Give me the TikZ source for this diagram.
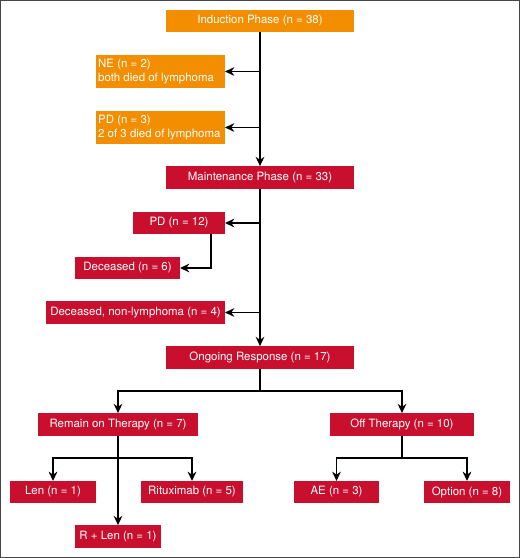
\documentclass[tikz,border=0pt]{standalone}
\usepackage{fontspec}
\setmainfont{TeX Gyre Heros}
\usepackage{tikz}
\usetikzlibrary{positioning, arrows.meta, calc}

\definecolor{phaseorange}{RGB}{242,142,0}
\definecolor{phasered}{RGB}{200,16,46}
\definecolor{framegray}{RGB}{70,70,70}

\tikzset{
  box/.style={fill=#1, text=white, inner sep=0pt, outer sep=0pt,
    font=\fontsize{8.6}{10.5}\selectfont},
  orangebox/.style={box=phaseorange},
  redbox/.style={box=phasered},
  notebox/.style={orangebox, minimum width=96.75pt, minimum height=24.75pt,
    inner xsep=1.6pt, text width=93.5pt, align=flush left},
  arr/.style={->, line width=1.2pt, black},
  link/.style={line width=1.2pt, black}
}

\begin{document}
\begin{tikzpicture}[x=0.75pt, y=-0.75pt, >={Stealth[length=7pt, width=6.5pt]}]
  \useasboundingbox (0,0) rectangle (520,558);
  \draw[framegray, line width=1.1pt] (0.7,0.7) rectangle (519.3,557.3);

  % --- Induction phase ---
  \node[orangebox, minimum width=141pt, minimum height=16.5pt] (induct) at (260,21) {Induction Phase (n = 38)};
  \node[notebox] (ne) at (160.5,71.5) {NE (n = 2)\\both died of lymphoma};
  \node[notebox] (pdind) at (160.5,127.5) {PD (n = 3)\\2 of 3 died of lymphoma};

  % --- Maintenance phase ---
  \node[redbox, minimum width=141pt, minimum height=17pt] (maint) at (260,177.5) {Maintenance Phase (n = 33)};
  \node[redbox, minimum width=69pt, minimum height=16.5pt] (pdmaint) at (179,223) {PD (n = 12)};
  \node[redbox, minimum width=78.75pt, minimum height=16.5pt] (dec) at (127.5,268) {Deceased (n = 6)};
  \node[redbox, minimum width=134.25pt, minimum height=17pt] (decnl) at (135.5,312.5) {Deceased, non-lymphoma (n = 4)};

  % --- Ongoing response ---
  \node[redbox, minimum width=141pt, minimum height=17pt] (ongo) at (260,357.5) {Ongoing Response (n = 17)};
  \node[redbox, minimum width=120pt, minimum height=17pt] (remain) at (118,424.5) {Remain on Therapy (n = 7)};
  \node[redbox, minimum width=108pt, minimum height=17pt] (off) at (402,424.5) {Off Therapy (n = 10)};
  \node[redbox, minimum width=64.5pt, minimum height=16.5pt] (len) at (53,492) {Len (n = 1)};
  \node[redbox, minimum width=76.5pt, minimum height=16.5pt] (ritux) at (192,492) {Rituximab (n = 5)};
  \node[redbox, minimum width=64.5pt, minimum height=17pt] (rlen) at (118,536.5) {R + Len (n = 1)};
  \node[redbox, minimum width=63.75pt, minimum height=16.5pt] (ae) at (336.5,492) {AE (n = 3)};
  \node[redbox, minimum width=64.5pt, minimum height=16.5pt] (option) at (467,492) {Option (n = 8)};

  % --- Connectors ---
  \draw[arr] (induct.south) -- (maint.north);
  \draw[arr] (ne.east -| induct.south) -- (ne.east);
  \draw[arr] (pdind.east -| induct.south) -- (pdind.east);

  \draw[arr] (maint.south) -- (ongo.north);
  \draw[arr] (pdmaint.east -| maint.south) -- (pdmaint.east);
  \draw[arr] ([xshift=-10.5pt]pdmaint.south east) |- (dec.east);
  \draw[arr] (decnl.east -| maint.south) -- (decnl.east);

  \draw[link] (ongo.south) -- ++(0,22) coordinate (osplit);
  \draw[arr] (osplit) -| (remain.north);
  \draw[arr] (osplit) -| (off.north);

  \draw[arr] (remain.south) -- (rlen.north);
  \coordinate (rsplit) at ($(remain.south)+(0,22)$);
  \draw[arr] (rsplit) -| (len.north);
  \draw[arr] (rsplit) -| (ritux.north);

  \draw[link] (off.south) -- ++(0,22) coordinate (fsplit);
  \draw[arr] (fsplit) -| (ae.north);
  \draw[arr] (fsplit) -| (option.north);
\end{tikzpicture}
\end{document}
